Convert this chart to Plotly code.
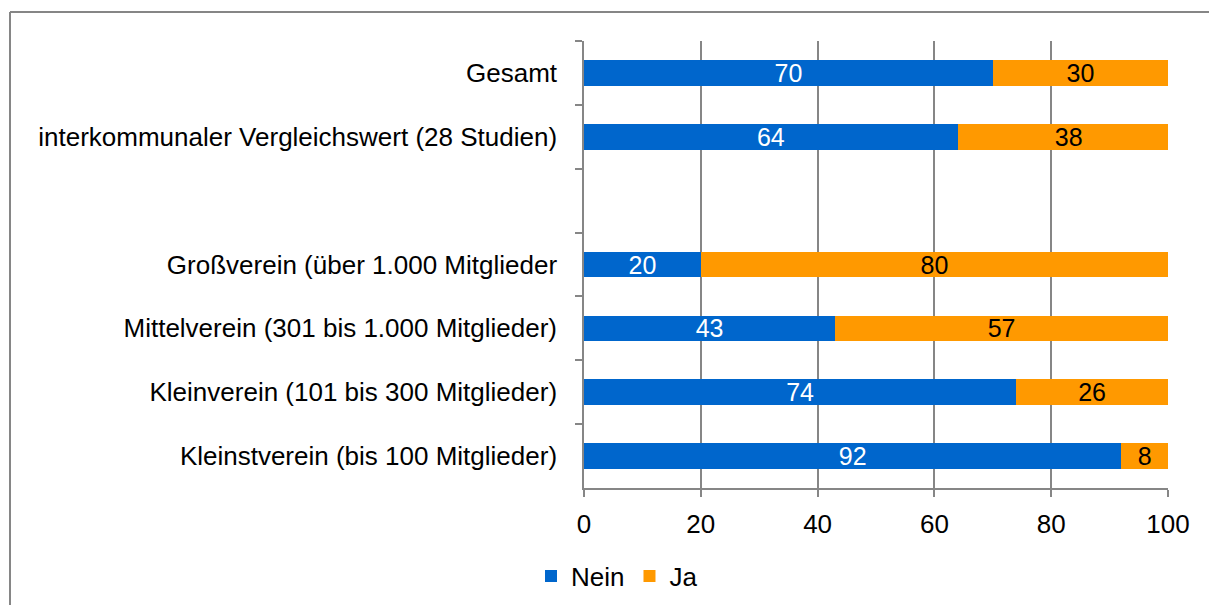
import plotly.graph_objects as go

categories = [
    "Gesamt",
    "interkommunaler Vergleichswert (28 Studien)",
    " ",
    "Großverein (über 1.000 Mitglieder",
    "Mittelverein (301 bis 1.000 Mitglieder)",
    "Kleinverein (101 bis 300 Mitglieder)",
    "Kleinstverein (bis 100 Mitglieder)",
]
nein = [70, 64, None, 20, 43, 74, 92]
ja = [30, 38, None, 80, 57, 26, 8]
x_ticks = [0, 20, 40, 60, 80, 100]

FONT = "Liberation Sans, Arial, sans-serif"
GRID = "#868686"

fig = go.Figure()
fig.add_trace(go.Bar(
    y=categories, x=nein, name="Nein", orientation="h",
    marker=dict(color="#0066CC", line=dict(width=0)),
    text=[str(v) if v is not None else "" for v in nein],
    textposition="inside", insidetextanchor="middle", textangle=0,
    textfont=dict(color="white", size=25, family=FONT),
    constraintext="none",
    width=0.4,
))
fig.add_trace(go.Bar(
    y=categories, x=ja, name="Ja", orientation="h",
    marker=dict(color="#FF9900", line=dict(width=0)),
    text=[str(v) if v is not None else "" for v in ja],
    textposition="inside", insidetextanchor="middle", textangle=0,
    textfont=dict(color="black", size=25, family=FONT),
    constraintext="none",
    width=0.4,
))

L, R, T, B = 584, 1168, 41, 488
W, H = 1209, 605
pw, ph = R - L, B - T

def px(xp):
    return (xp - L) / pw

def py(yp):
    return (B - yp) / ph

fig.update_layout(
    width=W, height=H,
    margin=dict(l=L, r=W - R, t=T, b=H - B, autoexpand=False),
    barmode="stack",
    plot_bgcolor="white", paper_bgcolor="white",
    font=dict(family=FONT, size=26, color="black"),
    uniformtext=dict(minsize=20, mode="show"),
    xaxis=dict(
        range=[0, 100], tickvals=x_ticks, showgrid=True, gridcolor=GRID, gridwidth=1.5,
        showline=True, linecolor=GRID, linewidth=1.5, ticks="outside", ticklen=7,
        tickcolor=GRID, tickwidth=1.5, zeroline=False, ticklabelstandoff=5,
        tickfont=dict(size=26, color="black"), fixedrange=True,
    ),
    yaxis=dict(
        type="category", categoryorder="array", categoryarray=categories,
        autorange="reversed", showgrid=False, showline=True, linecolor=GRID, linewidth=1.5,
        ticks="outside", ticklen=7, tickcolor=GRID, tickwidth=1.5, tickson="boundaries",
        ticklabelstandoff=20, tickfont=dict(size=26, color="black"), fixedrange=True,
    ),
    showlegend=True,
    legend=dict(
        orientation="h", x=px(617), xanchor="center", y=py(576), yanchor="middle",
        font=dict(size=26), traceorder="normal", itemwidth=30,
    ),
    shapes=[
        dict(type="line", xref="paper", yref="paper", x0=px(10), x1=px(10),
             y0=py(12), y1=py(620), line=dict(color=GRID, width=2)),
        dict(type="line", xref="paper", yref="paper", x0=px(10), x1=px(1220),
             y0=py(12), y1=py(12), line=dict(color=GRID, width=2)),
    ],
)

fig.write_html("out.html", post_script="document.body.style.margin='0';",
               config={"displayModeBar": False})
